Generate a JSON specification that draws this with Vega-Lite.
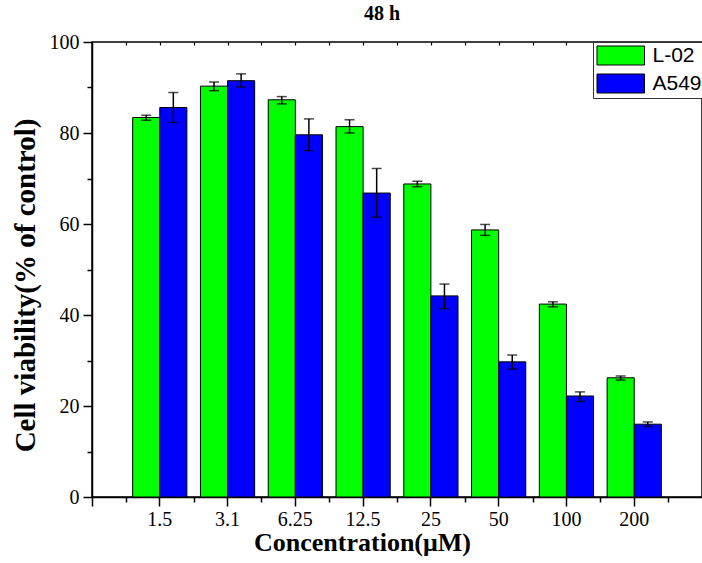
{
  "$schema": "https://vega.github.io/schema/vega-lite/v6.json",
  "autosize": "none",
  "width": 610,
  "height": 455,
  "padding": {"left": 92, "top": 42, "right": 0, "bottom": 66},
  "background": "white",
  "config": {
    "view": {"stroke": "black", "strokeWidth": 1.5},
    "font": "Liberation Serif"
  },
  "title": {
    "text": "48 h",
    "font": "Liberation Serif",
    "fontSize": 20,
    "fontWeight": "bold",
    "anchor": "middle",
    "offset": 8,
    "dx": -15,
    "color": "black"
  },
  "data": {
    "values": [
      {"conc": "1.5", "series": "L-02", "value": 83.4, "lo": 82.8, "hi": 83.9},
      {"conc": "1.5", "series": "A549", "value": 85.6, "lo": 82.3, "hi": 88.9},
      {"conc": "3.1", "series": "L-02", "value": 90.3, "lo": 89.3, "hi": 91.2},
      {"conc": "3.1", "series": "A549", "value": 91.5, "lo": 90.1, "hi": 93.0},
      {"conc": "6.25", "series": "L-02", "value": 87.3, "lo": 86.4, "hi": 88.0},
      {"conc": "6.25", "series": "A549", "value": 79.6, "lo": 76.1, "hi": 83.1},
      {"conc": "12.5", "series": "L-02", "value": 81.4, "lo": 80.0, "hi": 82.9},
      {"conc": "12.5", "series": "A549", "value": 66.8, "lo": 61.5, "hi": 72.2},
      {"conc": "25", "series": "L-02", "value": 68.8, "lo": 68.2, "hi": 69.4},
      {"conc": "25", "series": "A549", "value": 44.2, "lo": 41.4, "hi": 46.8},
      {"conc": "50", "series": "L-02", "value": 58.7, "lo": 57.5, "hi": 59.9},
      {"conc": "50", "series": "A549", "value": 29.7, "lo": 28.1, "hi": 31.2},
      {"conc": "100", "series": "L-02", "value": 42.4, "lo": 41.8, "hi": 42.9},
      {"conc": "100", "series": "A549", "value": 22.2, "lo": 21.0, "hi": 23.1},
      {"conc": "200", "series": "L-02", "value": 26.2, "lo": 25.7, "hi": 26.6},
      {"conc": "200", "series": "A549", "value": 16.0, "lo": 15.5, "hi": 16.5}
    ]
  },
  "layer": [
    {
      "mark": {"type": "bar", "stroke": "black", "strokeWidth": 1},
      "encoding": {
        "x": {
          "field": "conc", "type": "nominal", "sort": null,
          "scale": {"paddingInner": 0.2, "paddingOuter": 0.6},
          "axis": {
            "orient": "bottom",
            "title": "Concentration(μM)",
            "titleFont": "Liberation Serif", "titleFontSize": 26, "titleFontWeight": "bold",
            "titleColor": "black", "titlePadding": 0, "titleX": 270,
            "labelFont": "Liberation Serif", "labelFontSize": 20, "labelColor": "black",
            "labelAngle": 0, "labelPadding": 3,
            "tickSize": 9, "tickColor": "black", "tickWidth": 1.5,
            "domainColor": "black", "domainWidth": 1.5, "grid": false
          }
        },
        "xOffset": {"field": "series", "type": "nominal", "sort": ["L-02", "A549"]},
        "y": {
          "field": "value", "type": "quantitative",
          "scale": {"domain": [0, 100], "nice": false},
          "axis": {
            "title": "Cell viability(% of control)",
            "titleFont": "Liberation Serif", "titleFontSize": 29, "titleFontWeight": "bold",
            "titleColor": "black", "titlePadding": 9, "titleY": 243,
            "values": [0, 10, 20, 30, 40, 50, 60, 70, 80, 90, 100],
            "labelExpr": "datum.value % 20 === 0 ? datum.label : ''",
            "labelFont": "Liberation Serif", "labelFontSize": 20, "labelColor": "black", "labelPadding": 4,
            "tickSize": {"condition": {"test": "datum.value % 20 === 0", "value": 9}, "value": 5},
            "tickColor": "black", "tickWidth": 1.5,
            "domainColor": "black", "domainWidth": 1.5, "grid": false
          }
        },
        "color": {
          "field": "series", "type": "nominal",
          "scale": {"domain": ["L-02", "A549"], "range": ["#00ff00", "#0000ff"]},
          "legend": {
            "orient": "none", "legendX": 501, "legendY": 0,
            "title": null,
            "symbolType": "M-1,-1H4V1H-1Z",
            "symbolSize": 361,
            "symbolStrokeColor": "black", "symbolStrokeWidth": 1, "symbolOpacity": 1,
            "labelFont": "Liberation Sans", "labelFontSize": 21, "labelColor": "black",
            "labelOffset": 35.5, "rowPadding": 5,
            "padding": 3, "strokeColor": "#333", "fillColor": "white"
          }
        }
      }
    },
    {
      "mark": {"type": "rule", "color": "black", "strokeWidth": 1.5},
      "encoding": {
        "x": {"field": "conc", "type": "nominal", "sort": null, "scale": {"paddingInner": 0.2, "paddingOuter": 0.6}, "axis": null},
        "xOffset": {"field": "series", "type": "nominal", "sort": ["L-02", "A549"]},
        "y": {"field": "lo", "type": "quantitative"},
        "y2": {"field": "hi"}
      }
    },
    {
      "mark": {"type": "tick", "color": "black", "thickness": 1.5, "size": 10},
      "encoding": {
        "x": {"field": "conc", "type": "nominal", "sort": null, "scale": {"paddingInner": 0.2, "paddingOuter": 0.6}, "axis": null},
        "xOffset": {"field": "series", "type": "nominal", "sort": ["L-02", "A549"]},
        "y": {"field": "lo", "type": "quantitative"}
      }
    },
    {
      "mark": {"type": "tick", "color": "black", "thickness": 1.5, "size": 10},
      "encoding": {
        "x": {"field": "conc", "type": "nominal", "sort": null, "scale": {"paddingInner": 0.2, "paddingOuter": 0.6}, "axis": null},
        "xOffset": {"field": "series", "type": "nominal", "sort": ["L-02", "A549"]},
        "y": {"field": "hi", "type": "quantitative"}
      }
    },
    {
      "mark": {"type": "rule", "opacity": 0},
      "encoding": {
        "x": {
          "datum": 0, "type": "quantitative",
          "scale": {"domain": [0, 9], "nice": false, "zero": false},
          "axis": {
            "orient": "bottom", "values": [0, 0.5, 1.5, 2.5, 3.5, 4.5, 5.5, 6.5, 7.5, 8.5],
            "labels": false, "domain": false, "grid": false, "title": null,
            "tickSize": {"condition": {"test": "datum.value === 0", "value": 9}, "value": 5},
            "tickColor": "black", "tickWidth": 1.5
          }
        }
      }
    },
    {
      "mark": {"type": "rule", "opacity": 0},
      "encoding": {
        "x": {
          "datum": 0, "type": "quantitative",
          "scale": {"domain": [0, 9], "nice": false, "zero": false},
          "axis": {
            "orient": "top", "values": [0.5, 1, 1.5, 2, 2.5, 3, 3.5, 4, 4.5, 5, 5.5, 6, 6.5, 7, 7.5, 8, 8.5],
            "labels": false, "domain": false, "grid": false, "title": null,
            "tickSize": -3, "tickColor": "black", "tickWidth": 1.2
          }
        }
      }
    }
  ],
  "resolve": {"scale": {"x": "independent"}}
}
